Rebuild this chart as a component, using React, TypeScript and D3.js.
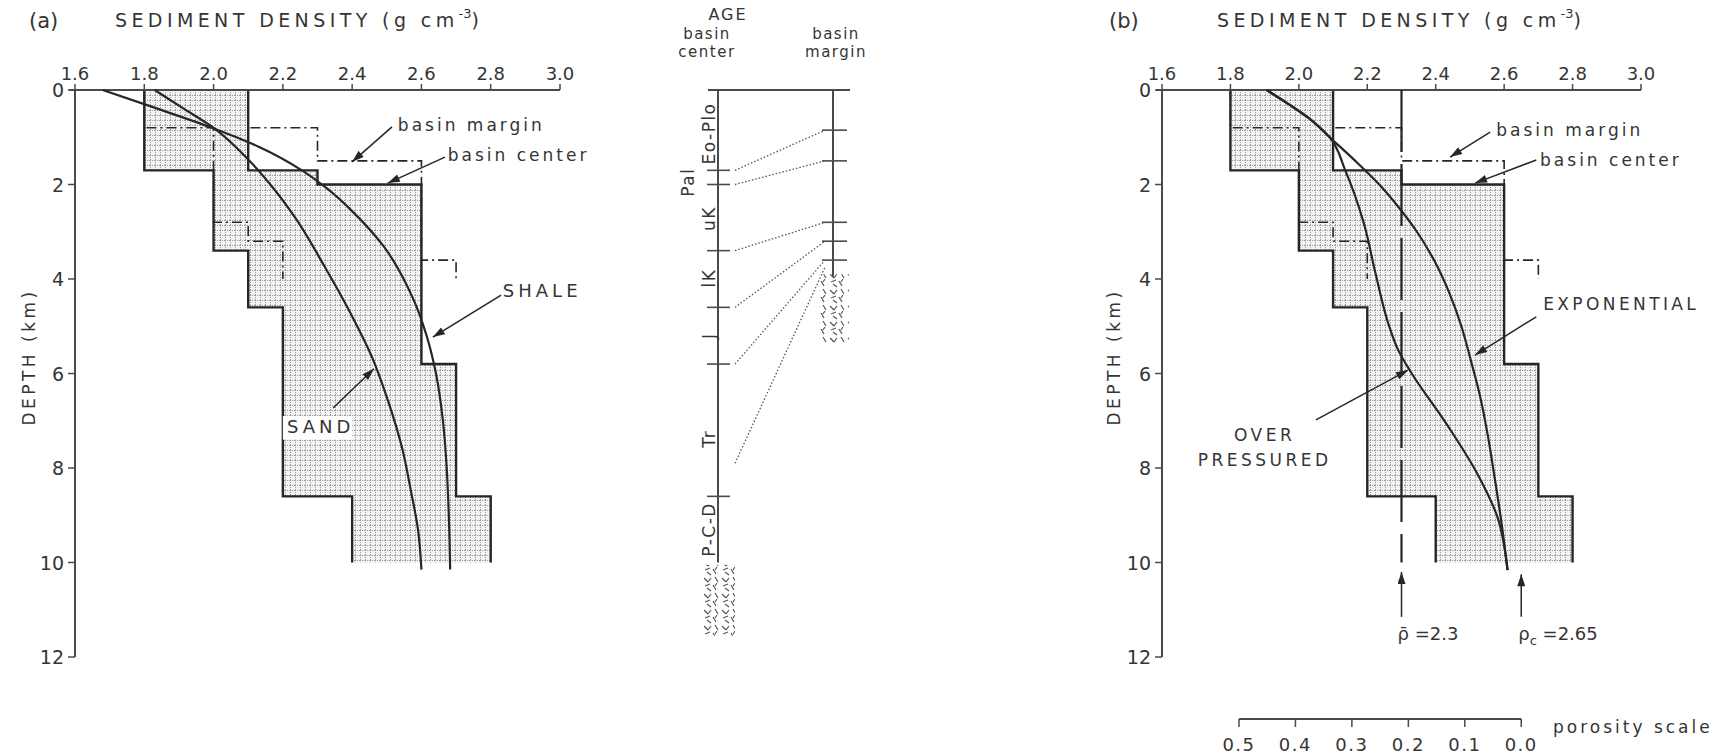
import React from "react";
import * as d3 from "d3";

// ---------------- data ----------------
const densityTicks = [1.6, 1.8, 2.0, 2.2, 2.4, 2.6, 2.8, 3.0];
const depthTicks = [0, 2, 4, 6, 8, 10, 12];
const porosityTicks = [0.5, 0.4, 0.3, 0.2, 0.1, 0.0];

// basin-center layered density profile (km, g/cm3)
const centerTop = [0, 1.7, 2.0, 3.4, 4.6, 5.8, 8.6];
const centerBottom = [1.7, 2.0, 3.4, 4.6, 5.8, 8.6, 10.0];
const centerMin = [1.8, 2.0, 2.0, 2.1, 2.2, 2.2, 2.4];
const centerMax = [2.1, 2.3, 2.6, 2.6, 2.6, 2.7, 2.8];

// basin-margin layered density profile
const marginTop = [0, 0.8, 1.5, 2.8, 3.2, 3.6];
const marginBottom = [0.8, 1.5, 2.8, 3.2, 3.6, 4.0];
const marginMin = [1.8, 2.0, 2.0, 2.1, 2.2, 2.2];
const marginMax = [2.1, 2.3, 2.6, 2.6, 2.6, 2.7];

// panel (a) compaction curves
const shaleDepth = [0, 0.4, 0.8, 1.2, 1.7, 2.1, 2.6, 3.3, 4.4, 5.2, 6.0, 7.0, 8.0, 9.0, 10.15];
const shaleDensity = [1.68, 1.84, 1.995, 2.13, 2.255, 2.33, 2.405, 2.49, 2.575, 2.615, 2.642, 2.662, 2.673, 2.679, 2.683];
const sandDepth = [0, 0.4, 0.8, 1.47, 2.1, 2.75, 3.73, 4.72, 5.7, 6.5, 7.6, 8.5, 9.3, 10.15];
const sandDensity = [1.83, 1.915, 2.0, 2.1, 2.175, 2.24, 2.32, 2.395, 2.46, 2.5, 2.545, 2.57, 2.59, 2.6];

// panel (b) curves
const expDepth = [0, 0.3, 0.6, 1.0, 1.5, 2.0, 2.54, 3.0, 3.6, 4.3, 5.0, 5.65, 6.49, 7.3, 8.1, 9.25, 10.16];
const expDensity = [1.906, 1.97, 2.03, 2.09, 2.165, 2.235, 2.298, 2.345, 2.395, 2.44, 2.475, 2.5, 2.53, 2.552, 2.57, 2.594, 2.61];
const overDepth = [0, 0.3, 0.6, 1.0, 1.69, 2.82, 3.88, 5.0, 5.5, 6.0, 7.05, 8.1, 9.03, 10.16];
const overDensity = [1.906, 1.97, 2.03, 2.09, 2.135, 2.19, 2.224, 2.264, 2.29, 2.33, 2.43, 2.52, 2.58, 2.61];

const meanDensity = 2.3;
const grainDensity = 2.65;
const waterDensity = 1.0;

// age column
const ageNames = ["Eo-Plo", "Pal", "uK", "lK", "J", "Tr", "P-C-D"];
const ageLabelDepth = [0.92, 1.95, 2.72, 3.98, 5.2, 7.38, 9.3];
const centerAgeTicks = [1.7, 2.0, 3.4, 4.6, 5.8, 8.6];
const marginAgeTicks = [0.85, 1.5, 2.8, 3.2, 3.6];
const corrCenterDepth = [1.7, 2.0, 3.4, 4.6, 5.8, 7.9];
const corrMarginDepth = [0.85, 1.5, 2.8, 3.2, 3.6, 3.75];
const centerBaseDepth = [10.05, 11.55];
const marginBaseDepth = [3.9, 5.35];

// ---------------- scales ----------------
const yS = d3.scaleLinear().domain([0, 12]).range([90, 657]);
const xA = d3.scaleLinear().domain([1.6, 3.0]).range([75, 560]);
const xB = d3.scaleLinear().domain([1.6, 3.0]).range([1162, 1641]);
const phiS = d3
  .scaleLinear()
  .domain([0.5, 0])
  .range([
    xB(grainDensity - 0.5 * (grainDensity - waterDensity)),
    xB(grainDensity),
  ]);

const FONT = "'DejaVu Sans', 'Liberation Sans', sans-serif";
const INK = "#262626";
const TXT = "#353535";
const AX = "#4a4a4a";

function stepPoints(tops: number[], bottoms: number[], vals: number[], x: any) {
  const pts: [number, number][] = [];
  tops.forEach((t, i) => {
    pts.push([x(vals[i]), yS(t)]);
    pts.push([x(vals[i]), yS(bottoms[i])]);
  });
  return pts;
}
function stepLine(tops: number[], bottoms: number[], vals: number[], x: any) {
  return d3.line()(stepPoints(tops, bottoms, vals, x)) || "";
}
function stepArea(x: any) {
  const l = stepPoints(centerTop, centerBottom, centerMin, x);
  const r = stepPoints(centerTop, centerBottom, centerMax, x).reverse();
  return (d3.line()([...l, ...r]) || "") + "Z";
}
function curvePath(depths: number[], dens: number[], x: any) {
  return (
    d3
      .line<number>()
      .x((i) => x(dens[i]))
      .y((i) => yS(depths[i]))
      .curve(d3.curveMonotoneY)(depths.map((_, i) => i)) || ""
  );
}

function Arrow({ x, a }: { x: any; a: number[] }) {
  return (
    <line
      x1={x(a[0])}
      y1={yS(a[1])}
      x2={x(a[2])}
      y2={yS(a[3])}
      stroke={INK}
      strokeWidth={1.5}
      markerEnd="url(#ah)"
    />
  );
}

function Panel({ x, tag, tagX, titleX, depthX }: any) {
  const x0 = x(1.6);
  const y0 = yS(0);
  return (
    <g>
      <path d={stepArea(x)} fill="url(#stip)" />
      <path d={stepLine(marginTop, marginBottom, marginMin, x)} fill="none" stroke={INK} strokeWidth={1.6} strokeDasharray="10 4 2 4" />
      <path d={stepLine(marginTop, marginBottom, marginMax, x)} fill="none" stroke={INK} strokeWidth={1.6} strokeDasharray="10 4 2 4" />
      <path d={stepLine(centerTop, centerBottom, centerMin, x)} fill="none" stroke={INK} strokeWidth={2.4} />
      <path d={stepLine(centerTop, centerBottom, centerMax, x)} fill="none" stroke={INK} strokeWidth={2.4} />

      {/* axes */}
      <line x1={x0 - 6} y1={y0} x2={x(3.0)} y2={y0} stroke={AX} strokeWidth={2} />
      <line x1={x0} y1={y0} x2={x0} y2={yS(12)} stroke={AX} strokeWidth={2} />
      {densityTicks.map((t) => (
        <g key={"dt" + t}>
          <line x1={x(t)} x2={x(t)} y1={y0} y2={y0 - 6} stroke={AX} strokeWidth={1.5} />
          <text x={x(t)} y={80} textAnchor="middle" fontSize={18} fill={TXT}>
            {t.toFixed(1)}
          </text>
        </g>
      ))}
      {depthTicks.map((t) => (
        <g key={"yt" + t}>
          <line x1={x0 - 7} x2={x0} y1={yS(t)} y2={yS(t)} stroke={AX} strokeWidth={1.5} />
          <text x={x0 - 11} y={yS(t) + 7} textAnchor="end" fontSize={19} fill={TXT}>
            {t}
          </text>
        </g>
      ))}
      <text
        transform={`translate(${depthX},${yS(5.65)}) rotate(-90)`}
        textAnchor="middle"
        fontSize={17}
        letterSpacing={3.5}
        fill={TXT}
      >
        DEPTH (km)
      </text>
      <text x={tagX} y={28} fontSize={21} fill={TXT}>
        {tag}
      </text>
      <text x={titleX} y={27} fontSize={19} letterSpacing={4.4} fill={TXT}>
        SEDIMENT DENSITY (g cm
        <tspan dy={-9} fontSize={13} letterSpacing={0}>
          -3
        </tspan>
        <tspan dy={9}>)</tspan>
      </text>
    </g>
  );
}

function Rock({ x1, x2, d }: { x1: number; x2: number; d: number[] }) {
  return <rect x={x1} y={yS(d[0])} width={x2 - x1} height={yS(d[1]) - yS(d[0])} fill="url(#rock)" />;
}

export default function App() {
  const cX = 718;
  const mX = 833;
  return (
    <svg
      width={1716}
      height={754}
      style={{ position: "absolute", left: 0, top: 0, background: "#fff" }}
      fontFamily={FONT}
    >
      <defs>
        <pattern id="stip" width="5" height="5" patternUnits="userSpaceOnUse">
          <rect width="5" height="5" fill="#f3f3f3" />
          <path d="M0 0.5H5" stroke="#9c9c9c" strokeWidth="1" strokeDasharray="1 1" />
          <path d="M0.5 0V5" stroke="#9c9c9c" strokeWidth="1" strokeDasharray="1 1" />
        </pattern>
        <pattern id="rock" width="18" height="16" patternUnits="userSpaceOnUse">
          <path
            d="M2 2l4 4M9 2l-3 4M13 1l3 5M3 10l5-2M11 9l3 5M5 12l4 3M15 7l-2 3"
            stroke="#555"
            strokeWidth="1.2"
            fill="none"
          />
        </pattern>
        <marker id="ah" viewBox="0 0 12 8" refX="12" refY="4" markerWidth="13" markerHeight="8" markerUnits="userSpaceOnUse" orient="auto">
          <path d="M0,0 L12,4 L0,8 z" fill={INK} />
        </marker>
      </defs>
      <rect width={1716} height={754} fill="#fff" />

      {/* ---------- panel (a) ---------- */}
      <Panel x={xA} tag="(a)" tagX={29} titleX={115} depthX={35} />
      <path d={curvePath(shaleDepth, shaleDensity, xA)} fill="none" stroke={INK} strokeWidth={2.2} />
      <path d={curvePath(sandDepth, sandDensity, xA)} fill="none" stroke={INK} strokeWidth={2.2} />

      <text x={xA(2.532)} y={yS(0.87)} fontSize={17} letterSpacing={3} fill={TXT}>basin margin</text>
      <Arrow x={xA} a={[2.515, 0.78, 2.4, 1.52]} />
      <text x={xA(2.676)} y={yS(1.5)} fontSize={17} letterSpacing={3} fill={TXT}>basin center</text>
      <Arrow x={xA} a={[2.668, 1.42, 2.503, 1.97]} />
      <text x={xA(2.835)} y={yS(4.38)} fontSize={18} letterSpacing={4} fill={TXT}>SHALE</text>
      <Arrow x={xA} a={[2.83, 4.34, 2.633, 5.23]} />
      <rect x={xA(2.2)} y={yS(6.9)} width={xA(2.4) - xA(2.2)} height={yS(7.4) - yS(6.9)} fill="#fff" />
      <text x={xA(2.212)} y={yS(7.26)} fontSize={18} letterSpacing={4} fill={TXT}>SAND</text>
      <Arrow x={xA} a={[2.345, 6.73, 2.463, 5.9]} />

      {/* ---------- age column ---------- */}
      <text x={728} y={20} textAnchor="middle" fontSize={16} letterSpacing={2} fill={TXT}>AGE</text>
      <text x={707} y={39} textAnchor="middle" fontSize={15} letterSpacing={1.5} fill={TXT}>basin</text>
      <text x={707} y={57} textAnchor="middle" fontSize={15} letterSpacing={1.5} fill={TXT}>center</text>
      <text x={836} y={39} textAnchor="middle" fontSize={15} letterSpacing={1.5} fill={TXT}>basin</text>
      <text x={836} y={57} textAnchor="middle" fontSize={15} letterSpacing={1.5} fill={TXT}>margin</text>
      <line x1={708} x2={850} y1={yS(0)} y2={yS(0)} stroke={AX} strokeWidth={2} />
      <line x1={cX} x2={cX} y1={yS(0)} y2={yS(10)} stroke={AX} strokeWidth={2} />
      <line x1={mX} x2={mX} y1={yS(0)} y2={yS(3.95)} stroke={AX} strokeWidth={2} />
      {centerAgeTicks.map((d) => (
        <line key={"ct" + d} x1={cX - 11} x2={cX + 12} y1={yS(d)} y2={yS(d)} stroke={AX} strokeWidth={1.6} />
      ))}
      {marginAgeTicks.map((d) => (
        <line key={"mt" + d} x1={mX - 11} x2={mX + 14} y1={yS(d)} y2={yS(d)} stroke={AX} strokeWidth={1.6} />
      ))}
      {corrCenterDepth.map((d, i) => (
        <line
          key={"cr" + i}
          x1={cX + 17}
          y1={yS(d)}
          x2={mX - 8}
          y2={yS(corrMarginDepth[i])}
          stroke="#555"
          strokeWidth={1.3}
          strokeDasharray="1.5 2"
        />
      ))}
      {ageNames.map((n, i) => (
        <text
          key={n}
          transform={`translate(${i === 1 ? 694 : 715},${yS(ageLabelDepth[i])}) rotate(-90)`}
          textAnchor="middle"
          fontSize={17}
          letterSpacing={1.5}
          fill={TXT}
        >
          {n}
        </text>
      ))}
      <Rock x1={701} x2={735} d={centerBaseDepth} />
      <Rock x1={819} x2={849} d={marginBaseDepth} />

      {/* ---------- panel (b) ---------- */}
      <Panel x={xB} tag="(b)" tagX={1109} titleX={1217} depthX={1120} />
      <line
        x1={xB(meanDensity)}
        x2={xB(meanDensity)}
        y1={yS(0)}
        y2={yS(10)}
        stroke={INK}
        strokeWidth={2.2}
        strokeDasharray="62 12"
      />
      <path d={curvePath(expDepth, expDensity, xB)} fill="none" stroke={INK} strokeWidth={2.2} />
      <path d={curvePath(overDepth, overDensity, xB)} fill="none" stroke={INK} strokeWidth={2.2} />

      <text x={xB(2.577)} y={yS(0.97)} fontSize={17} letterSpacing={3} fill={TXT}>basin margin</text>
      <Arrow x={xB} a={[2.559, 0.89, 2.442, 1.42]} />
      <text x={xB(2.705)} y={yS(1.61)} fontSize={17} letterSpacing={3} fill={TXT}>basin center</text>
      <Arrow x={xB} a={[2.694, 1.48, 2.515, 1.97]} />
      <text x={xB(2.714)} y={yS(4.66)} fontSize={17} letterSpacing={3.4} fill={TXT}>EXPONENTIAL</text>
      <Arrow x={xB} a={[2.694, 4.8, 2.515, 5.61]} />
      <text x={xB(1.9)} y={yS(7.43)} textAnchor="middle" fontSize={17} letterSpacing={3.5} fill={TXT}>OVER</text>
      <text x={xB(1.9)} y={yS(7.96)} textAnchor="middle" fontSize={17} letterSpacing={3.5} fill={TXT}>PRESSURED</text>
      <Arrow x={xB} a={[2.05, 6.98, 2.319, 5.93]} />

      <Arrow x={xB} a={[meanDensity, 11.15, meanDensity, 10.2]} />
      <Arrow x={xB} a={[grainDensity, 11.15, grainDensity, 10.25]} />
      <text x={xB(meanDensity) - 4} y={640} fontSize={18} fill={TXT}>
        {"\u03C1\u0304 =2.3"}
      </text>
      <text x={xB(grainDensity) - 3} y={640} fontSize={18} fill={TXT}>
        {"\u03C1"}
        <tspan dy={5} fontSize={13}>c</tspan>
        <tspan dy={-5}>{" =2.65"}</tspan>
      </text>

      {/* porosity scale */}
      <line x1={phiS(0.5)} x2={phiS(0)} y1={719} y2={719} stroke={AX} strokeWidth={2} />
      {porosityTicks.map((p) => (
        <g key={"p" + p}>
          <line x1={phiS(p)} x2={phiS(p)} y1={719} y2={727} stroke={AX} strokeWidth={1.5} />
          <text x={phiS(p)} y={751} textAnchor="middle" fontSize={18} letterSpacing={1.5} fill={TXT}>
            {p.toFixed(1)}
          </text>
        </g>
      ))}
      <text x={1553} y={733} fontSize={17} letterSpacing={3} fill={TXT}>porosity scale</text>
    </svg>
  );
}
